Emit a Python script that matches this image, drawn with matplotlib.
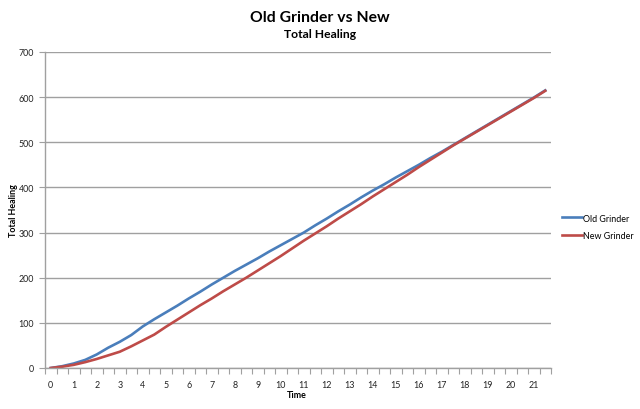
import matplotlib
matplotlib.use("Agg")
import matplotlib.pyplot as plt
import numpy as np

plt.rcParams['font.family'] = ['Lato', 'DejaVu Sans']

# time in half steps, 0 .. 21.5
time = [i * 0.5 for i in range(44)]

old_grinder = [0, 4, 10, 18, 30, 45, 58, 73, 92, 108,
               123, 138, 154, 169, 185, 200, 215, 229, 243, 258,
               272, 286, 300, 316, 331, 347, 362, 378, 393, 407,
               422, 436, 450, 465, 479, 494, 509, 524, 539, 554,
               569, 584, 599, 615]
new_grinder = [0, 3, 7, 13, 20, 28, 36, 48, 61, 74,
               91, 107, 123, 139, 154, 170, 185, 200, 216, 232,
               248, 265, 282, 298, 314, 331, 347, 363, 380, 396,
               412, 428, 445, 461, 477, 493, 508, 523, 538, 553,
               568, 583, 598, 614]

x_labels = [str(i) for i in range(22)]

blue = '#4A7EBB'
red = '#BE4B48'
grey = '#A0A0A0'
fs = 6.4

fig = plt.figure(figsize=(6.4, 4.1), dpi=100)
ax = fig.add_axes([45 / 640, 1 - 369 / 410, 506 / 640, 316 / 410])

ax.plot(time, old_grinder, color=blue, lw=1.9, label='Old Grinder')
ax.plot(time, new_grinder, color=red, lw=1.9, label='New Grinder')

ax.set_xlim(-0.25, 21.75)
ax.set_ylim(0, 700)

# category boundaries get the tick marks, integer times get the labels
bounds = np.arange(-0.25, 21.76, 0.5)
ax.set_xticks(bounds)
ax.set_xticklabels([''] * len(bounds))
ax.set_xticks(range(22), minor=True)
ax.set_xticklabels(x_labels, minor=True, fontsize=fs, color='#222222')
ax.tick_params(axis='x', which='major', length=4, width=0.8, color=grey, direction='out')
ax.tick_params(axis='x', which='minor', length=0, pad=9)

ax.set_yticks(range(0, 701, 100))
ax.tick_params(axis='y', length=4, width=0.8, color=grey, labelsize=fs, labelcolor='#222222', pad=4)
ax.grid(axis='y', color=grey, lw=1.0)
ax.set_axisbelow(True)

for side in ['top', 'right']:
    ax.spines[side].set_visible(False)
for side in ['left', 'bottom']:
    ax.spines[side].set_color(grey)
    ax.spines[side].set_linewidth(1.0)

ax.set_xlabel('Time', fontsize=fs, fontweight='bold')
ax.xaxis.set_label_coords((297 - 45) / 506, (369 - 396) / 316)
ax.xaxis.label.set_va('center')
ax.set_ylabel('Total Healing', fontsize=fs, fontweight='bold')
ax.yaxis.set_label_coords((14 - 45) / 506, 0.5)
ax.yaxis.label.set_va('center')

fig.text(0.5, 1 - 22 / 410, 'Old Grinder vs New', ha='center', va='baseline',
         fontsize=11.3, fontweight='bold')
fig.text(0.5, 1 - 38 / 410, 'Total Healing', ha='center', va='baseline',
         fontsize=8.7, fontweight='bold')

ax.legend(loc='center left', bbox_to_anchor=(562 / 640, 1 - 228 / 410),
          bbox_transform=fig.transFigure, frameon=False, fontsize=fs,
          handlelength=2.2, handletextpad=0.15, labelspacing=1.0,
          borderpad=0, borderaxespad=0)

fig.savefig('out.png', dpi=100)
